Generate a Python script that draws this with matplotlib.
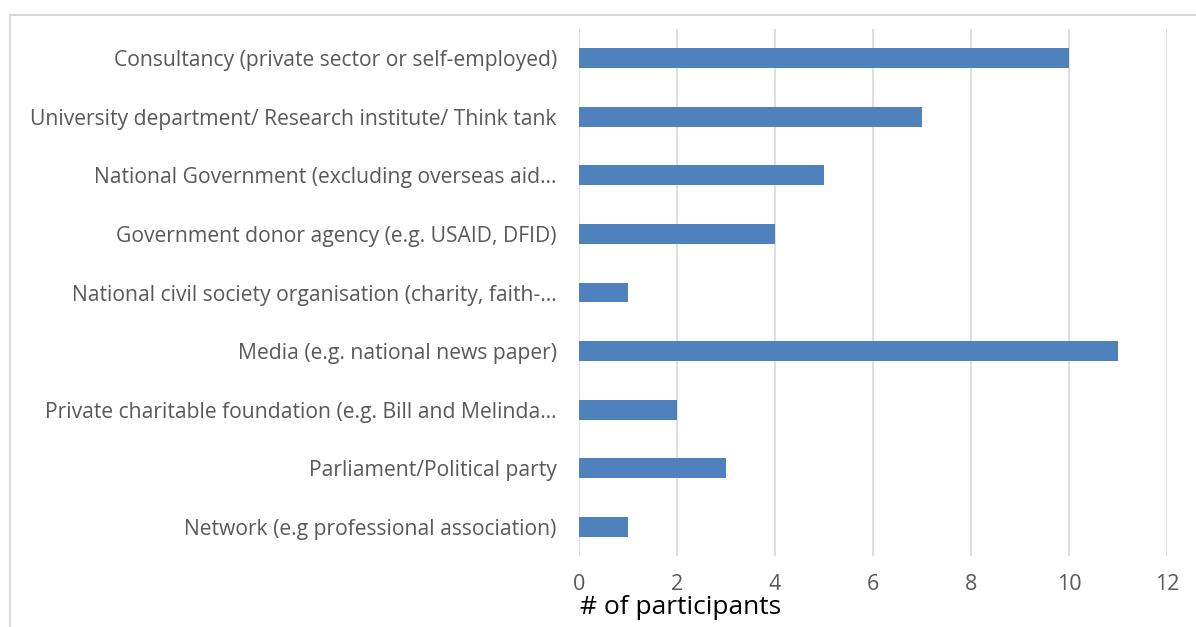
import matplotlib
matplotlib.use("Agg")
import matplotlib.pyplot as plt
from matplotlib.patches import Rectangle

categories = [
    "Consultancy (private sector or self-employed)",
    "University department/ Research institute/ Think tank",
    "National Government (excluding overseas aid\u2026",
    "Government donor agency (e.g. USAID, DFID)",
    "National civil society organisation (charity, faith-\u2026",
    "Media (e.g. national news paper)",
    "Private charitable foundation (e.g. Bill and Melinda\u2026",
    "Parliament/Political party",
    "Network (e.g professional association)",
]
values = [10, 7, 5, 4, 1, 11, 2, 3, 1]
xticks = [0, 2, 4, 6, 8, 10, 12]
xlabel = "# of participants"

plt.rcParams['font.family'] = ['Open Sans', 'DejaVu Sans']

W, H = 1196, 627
fig = plt.figure(figsize=(W / 100, H / 100), dpi=100)
fig.patch.set_facecolor("white")

# outer frame (partially cropped)
fig.patches.append(Rectangle((10 / W, -0.1), 1.2, 1 - 15 / H + 0.1, transform=fig.transFigure,
                             fill=False, edgecolor="#D9D9D9", linewidth=1.5))

ax = fig.add_axes([579 / W, 1 - 556 / H, (1167 - 579) / W, (556 - 29) / H])
y = list(range(len(categories)))
ax.barh(y, values, height=0.34, color="#4F81BD", zorder=3)
ax.set_yticks(y)
ax.set_yticklabels(categories)
ax.set_ylim(len(categories) - 0.5, -0.5)
ax.set_xlim(0, 12)
ax.set_xticks(xticks)
ax.set_xticklabels([str(t) for t in xticks])
ax.grid(axis="x", color="#D9D9D9", linewidth=1.2, zorder=0)
for s in ax.spines.values():
    s.set_visible(False)
ax.tick_params(axis="y", length=0, pad=16, labelsize=15.2, labelcolor="#595959")
ax.tick_params(axis="x", length=0, pad=13, labelsize=15.5, labelcolor="#595959")

fig.text(580 / W, 1 - 608 / H, xlabel, fontsize=19, color="black", ha="left", va="center")

fig.savefig("out.png", dpi=100, facecolor="white")
